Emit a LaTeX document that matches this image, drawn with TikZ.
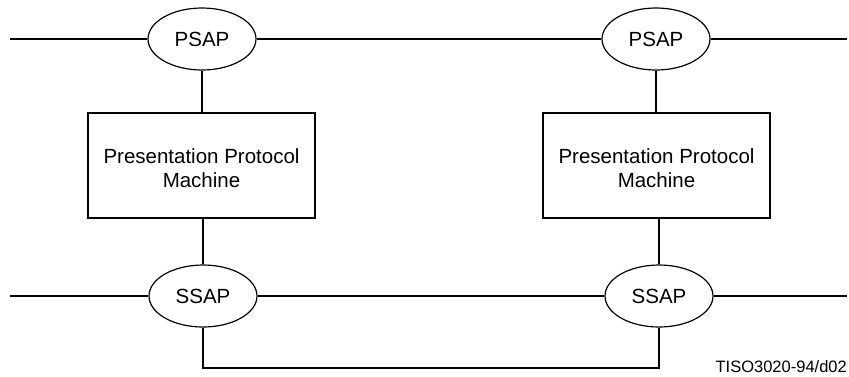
\documentclass[tikz,border=0pt]{standalone}
\usepackage{fontspec}
\setmainfont{Liberation Sans}
\usetikzlibrary{shapes.geometric}

\tikzset{
  wire/.style={line width=1.2pt, black},
  sap/.style={ellipse, draw, line width=1.2pt, inner sep=0pt,
    minimum width=108pt, minimum height=62pt,
    font=\fontsize{20.5}{24}\selectfont},
  pmbox/.style={rectangle, draw, line width=1.2pt, inner sep=0pt,
    minimum width=227pt, minimum height=105pt},
  pmtext/.style={align=center, inner sep=0pt,
    font=\fontsize{20.5}{24.5}\selectfont},
  tag/.style={inner sep=0pt, anchor=base east,
    font=\fontsize{16.5}{18}\selectfont}
}

\begin{document}
\begin{tikzpicture}[x=1pt, y=-1pt]
  \useasboundingbox (0,0) rectangle (849,376);

  % service access points
  \node[sap] (psapL) at (202,39) {PSAP};
  \node[sap] (psapR) at (656,39) {PSAP};
  \node[sap] (ssapL) at (203,296) {SSAP};
  \node[sap] (ssapR) at (659,296) {SSAP};

  % protocol machines
  \node[pmbox] (boxL) at (201.5,165.5) {};
  \node[pmbox] (boxR) at (656.5,165.5) {};
  \node[pmtext] (txtL) at ([yshift=-2.7pt]boxL.center) {Presentation Protocol\\Machine};
  \node[pmtext] (txtR) at ([yshift=-2.7pt]boxR.center) {Presentation Protocol\\Machine};

  % line ends and the lower link
  \coordinate (topW) at (10,39);
  \coordinate (topE) at (847,39);
  \coordinate (botW) at (10,296);
  \coordinate (botE) at (847,296);
  \coordinate (link) at (0,368);

  % upper service line
  \draw[wire] (topW) -- (psapL.west);
  \draw[wire] (psapL.east) -- (psapR.west);
  \draw[wire] (psapR.east) -- (topE);

  % lower service line
  \draw[wire] (botW) -- (ssapL.west);
  \draw[wire] (ssapL.east) -- (ssapR.west);
  \draw[wire] (ssapR.east) -- (botE);

  % vertical connections
  \draw[wire] (psapL.south) -- (psapL.south |- boxL.north);
  \draw[wire] (psapR.south) -- (psapR.south |- boxR.north);
  \draw[wire] (ssapL.north |- boxL.south) -- (ssapL.north);
  \draw[wire] (ssapR.north |- boxR.south) -- (ssapR.north);

  % link between the two SSAPs
  \draw[wire] (ssapL.south) -- (ssapL.south |- link) -| (ssapR.south);

  \node[tag] (ref) at (847,372.7) {TISO3020-94/d02};
\end{tikzpicture}
\end{document}
